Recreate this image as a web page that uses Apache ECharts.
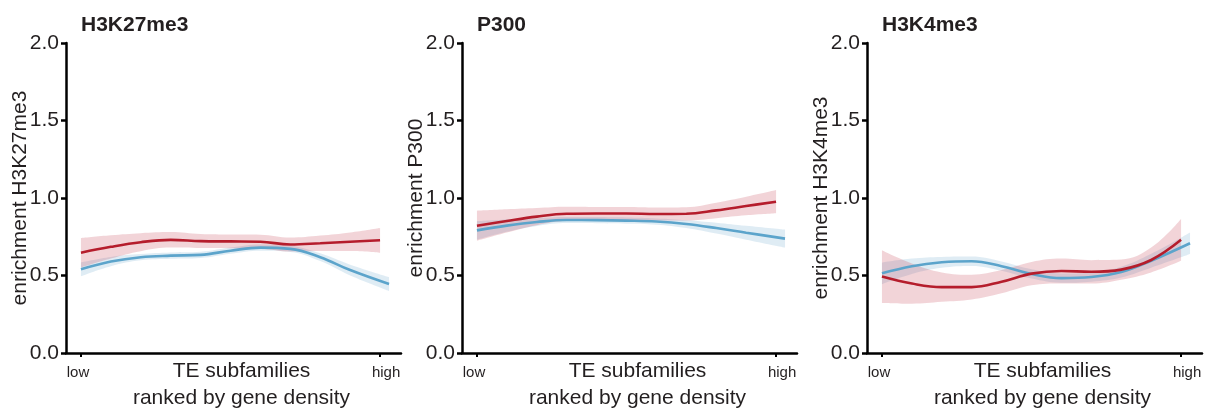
<!DOCTYPE html>
<html>
<head>
<meta charset="utf-8">
<title>enrichment by gene density</title>
<script src="https://cdn.jsdelivr.net/npm/echarts@6/dist/echarts.min.js"></script>
<style>
  html, body { margin: 0; padding: 0; background: #fff; }
  #chart { width: 1215px; height: 410px; }
</style>
</head>
<body>
<div id="chart"></div>
<script>
// panel titles / marks
var panelNames = ['H3K27me3', 'P300', 'H3K4me3']
var yTicks = [0, 0.5, 1.0, 1.5, 2.0]

// rank position along the TE subfamilies (0 = low, 1 = high)
var rankRed = [0, 0.1, 0.2, 0.3, 0.4, 0.5, 0.6, 0.7, 0.8, 0.9, 1.0]
var rankBlue = [0, 0.1, 0.2, 0.3, 0.4, 0.5, 0.6, 0.7, 0.8, 0.9, 1.03]

// H3K27me3
var k27Red = [0.647, 0.685, 0.715, 0.73, 0.722, 0.72, 0.718, 0.70, 0.708, 0.718, 0.727]
var k27RedLo = [0.552, 0.61, 0.657, 0.68, 0.677, 0.676, 0.673, 0.655, 0.658, 0.658, 0.647]
var k27RedHi = [0.742, 0.76, 0.773, 0.78, 0.767, 0.764, 0.763, 0.745, 0.758, 0.778, 0.807]
var k27Blue = [0.54, 0.59, 0.618, 0.628, 0.633, 0.66, 0.68, 0.672, 0.618, 0.535, 0.445]
var k27BlueLo = [0.495, 0.56, 0.598, 0.608, 0.613, 0.64, 0.66, 0.652, 0.593, 0.50, 0.40]
var k27BlueHi = [0.585, 0.62, 0.638, 0.648, 0.653, 0.68, 0.70, 0.692, 0.643, 0.57, 0.49]

// P300
var p300Red = [0.821, 0.852, 0.88, 0.898, 0.9, 0.9, 0.897, 0.898, 0.92, 0.948, 0.976]
var p300RedLo = [0.724, 0.777, 0.825, 0.853, 0.858, 0.858, 0.855, 0.855, 0.87, 0.888, 0.901]
var p300RedHi = [0.918, 0.927, 0.935, 0.943, 0.942, 0.942, 0.939, 0.941, 0.97, 1.008, 1.051]
var p300Blue = [0.791, 0.822, 0.845, 0.858, 0.857, 0.854, 0.848, 0.832, 0.806, 0.776, 0.738]
var p300BlueLo = [0.731, 0.782, 0.82, 0.838, 0.837, 0.834, 0.828, 0.807, 0.771, 0.731, 0.68]
var p300BlueHi = [0.851, 0.862, 0.87, 0.878, 0.877, 0.874, 0.868, 0.857, 0.841, 0.821, 0.796]

// H3K4me3
var k4Red = [0.493, 0.448, 0.425, 0.425, 0.46, 0.512, 0.529, 0.524, 0.538, 0.60, 0.73]
var k4RedLo = [0.323, 0.318, 0.33, 0.345, 0.385, 0.437, 0.449, 0.449, 0.473, 0.52, 0.595]
var k4RedHi = [0.663, 0.578, 0.52, 0.505, 0.535, 0.587, 0.609, 0.599, 0.603, 0.68, 0.865]
var k4Blue = [0.514, 0.56, 0.585, 0.592, 0.56, 0.51, 0.483, 0.49, 0.522, 0.595, 0.708]
var k4BlueLo = [0.444, 0.51, 0.55, 0.562, 0.53, 0.48, 0.453, 0.46, 0.487, 0.55, 0.638]
var k4BlueHi = [0.584, 0.61, 0.62, 0.622, 0.59, 0.54, 0.513, 0.52, 0.557, 0.64, 0.778]

var panels = [
  { red: k27Red, redLo: k27RedLo, redHi: k27RedHi, blue: k27Blue, blueLo: k27BlueLo, blueHi: k27BlueHi },
  { red: p300Red, redLo: p300RedLo, redHi: p300RedHi, blue: p300Blue, blueLo: p300BlueLo, blueHi: p300BlueHi },
  { red: k4Red, redLo: k4RedLo, redHi: k4RedHi, blue: k4Blue, blueLo: k4BlueLo, blueHi: k4BlueHi }
]

var FONT = "'Liberation Sans', Arial, Helvetica, sans-serif"
var TEXT = '#231f20'
var RED = '#b51d2c'
var BLUE = '#5ca4cb'
var RED_BAND = 'rgba(190, 40, 60, 0.2)'
var BLUE_BAND = 'rgba(80, 150, 195, 0.18)'
var gridLefts = [66, 462, 867]

// rows are [value, rank] so that stacking works on the value column
function rows(xs, ys) {
  return xs.map(function(x, i) { return [ys[i], x] })
}

function widths(lo, hi) {
  return lo.map(function(v, i) { return hi[i] - v })
}

var grids = []
var xAxes = []
var yAxes = []
var titles = []
var series = []

panels.forEach(function(p, i) {
  grids.push({ left: gridLefts[i], top: 43, width: 335, height: 310, outerBoundsMode: 'none', containLabel: false })
  titles.push({
    text: panelNames[i],
    left: gridLefts[i] + 15,
    top: 15,
    padding: 0,
    textStyle: { fontFamily: FONT, fontSize: 21, fontWeight: 'bold', color: TEXT }
  })
  xAxes.push({
    gridIndex: i,
    type: 'value',
    min: -0.05,
    max: 1.07,
    splitLine: { show: false },
    axisLine: { onZero: false, lineStyle: { color: '#000', width: 2.5 } },
    axisTick: { customValues: [0, 1], length: 4, lineStyle: { color: '#000', width: 2 } },
    axisLabel: {
      customValues: [0, 1],
      margin: 12,
      fontFamily: FONT,
      fontSize: 15,
      color: TEXT,
      formatter: function(v) { return v === 0 ? '{lo|low}' : '{hi|high}' },
      rich: {
        lo: { fontFamily: FONT, fontSize: 15, color: TEXT, padding: [0, 6, 0, 0] },
        hi: { fontFamily: FONT, fontSize: 15, color: TEXT, padding: [0, 0, 0, 12] }
      }
    },
    name: 'TE subfamilies\nranked by gene density',
    nameLocation: 'middle',
    nameGap: 5,
    nameMoveOverlap: false,
    nameTextStyle: { fontFamily: FONT, fontSize: 21, color: TEXT, lineHeight: 27, padding: [0, 0, 0, 16] }
  })
  yAxes.push({
    gridIndex: i,
    type: 'value',
    min: yTicks[0],
    max: yTicks[yTicks.length - 1],
    interval: 0.5,
    splitLine: { show: false },
    axisLine: { show: true, onZero: false, lineStyle: { color: '#000', width: 2.5 } },
    axisTick: { show: true, length: 5, lineStyle: { color: '#000', width: 2.5 } },
    axisLabel: {
      margin: 7,
      fontFamily: FONT,
      fontSize: 21,
      color: TEXT,
      formatter: function(v) { return v.toFixed(1) }
    },
    name: 'enrichment ' + panelNames[i],
    nameLocation: 'middle',
    nameGap: 35,
    nameMoveOverlap: false,
    nameTextStyle: { fontFamily: FONT, fontSize: 21, color: TEXT }
  })

  var base = {
    xAxisIndex: i, yAxisIndex: i, type: 'line', symbol: 'none', smooth: 0.4, silent: true,
    encode: { x: 1, y: 0 }
  }

  // confidence bands: invisible lower edge + stacked width
  series.push(Object.assign({}, base, {
    stack: 'blueBand' + i, data: rows(rankBlue, p.blueLo), lineStyle: { opacity: 0 }
  }))
  series.push(Object.assign({}, base, {
    stack: 'blueBand' + i,
    data: rows(rankBlue, widths(p.blueLo, p.blueHi)),
    lineStyle: { opacity: 0 },
    areaStyle: { color: BLUE_BAND, opacity: 1 }
  }))
  series.push(Object.assign({}, base, {
    stack: 'redBand' + i, data: rows(rankRed, p.redLo), lineStyle: { opacity: 0 }
  }))
  series.push(Object.assign({}, base, {
    stack: 'redBand' + i,
    data: rows(rankRed, widths(p.redLo, p.redHi)),
    lineStyle: { opacity: 0 },
    areaStyle: { color: RED_BAND, opacity: 1 }
  }))
  // fitted lines
  series.push(Object.assign({}, base, {
    data: rows(rankBlue, p.blue), lineStyle: { color: BLUE, width: 2.6 }
  }))
  series.push(Object.assign({}, base, {
    data: rows(rankRed, p.red), lineStyle: { color: RED, width: 2.6 }
  }))
})

var myChart = echarts.init(document.getElementById('chart'))
myChart.setOption({
  animation: false,
  backgroundColor: '#fff',
  title: titles,
  grid: grids,
  xAxis: xAxes,
  yAxis: yAxes,
  series: series
})
</script>
</body>
</html>
